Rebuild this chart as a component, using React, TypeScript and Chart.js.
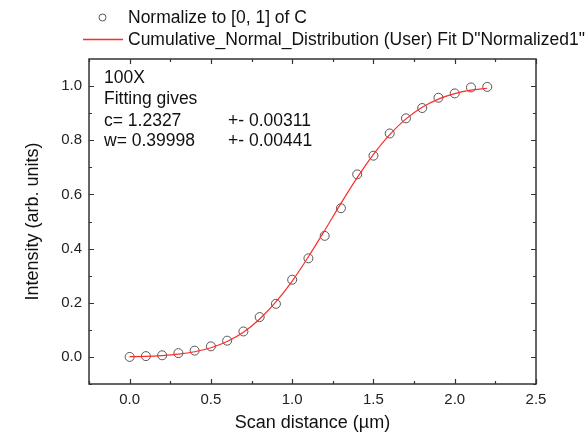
import { useEffect, useRef } from "react";
import { Chart, registerables } from "chart.js";

Chart.register(...registerables);

// ---- data ----
const scanX = [0, 0.1, 0.2, 0.3, 0.4, 0.5, 0.6, 0.7, 0.8, 0.9, 1.0, 1.1, 1.2, 1.3, 1.4, 1.5, 1.6, 1.7, 1.8, 1.9, 2.0, 2.1, 2.2];
const normalized = [0.0, 0.003, 0.006, 0.014, 0.023, 0.039, 0.06, 0.094, 0.147, 0.196, 0.285, 0.364, 0.447, 0.549, 0.674, 0.743, 0.825, 0.881, 0.919, 0.957, 0.973, 0.995, 0.997];
const fitX = [0, 0.1, 0.2, 0.3, 0.4, 0.5, 0.6, 0.7, 0.8, 0.9, 1.0, 1.1, 1.2, 1.3, 1.4, 1.5, 1.6, 1.7, 1.8, 1.9, 2.0, 2.1, 2.2];
const fitY = [0.001, 0.002, 0.005, 0.010, 0.019, 0.034, 0.057, 0.091, 0.140, 0.203, 0.280, 0.370, 0.467, 0.567, 0.662, 0.748, 0.821, 0.879, 0.922, 0.952, 0.972, 0.985, 0.992];
const xTickValues = [0, 0.5, 1.0, 1.5, 2.0, 2.5];
const yTickValues = [0, 0.2, 0.4, 0.6, 0.8, 1.0];
const seriesNames = ["Normalize to [0, 1] of C", "Cumulative_Normal_Distribution (User) Fit D\"Normalized1\""];
const noteLines = ["100X", "Fitting gives"];
const paramNames = ["c= 1.2327", "w= 0.39998"];
const paramErrors = ["+- 0.00311", "+- 0.00441"];
const xTitle = "Scan distance (µm)";
const yTitle = "Intensity (arb. units)";

const FONT = "'Liberation Sans', Arial, sans-serif";
const MARKER_COLOR = "#555555";
const FIT_COLOR = "#ff2a2a";
const FRAME_COLOR = "#333333";

const framePlugin = {
  id: "originFrame",
  afterDraw(chart: any) {
    const { ctx, chartArea } = chart;
    const { left, right, top, bottom } = chartArea;
    const xs = chart.scales.x;
    const ys = chart.scales.y;
    ctx.save();
    ctx.strokeStyle = FRAME_COLOR;
    ctx.lineWidth = 1.5;
    ctx.strokeRect(left, top, right - left, bottom - top);
    ctx.lineWidth = 1.2;
    const major = 5;
    const minor = 3;
    const xMinor = xTickValues.slice(0, -1).map((v, i) => (v + xTickValues[i + 1]) / 2);
    xMinor.unshift(xTickValues[0] - 0.25);
    const drawX = (v: number, len: number) => {
      const px = Math.round(xs.getPixelForValue(v)) + 0.5;
      if (px < left - 1 || px > right + 1) return;
      ctx.beginPath();
      ctx.moveTo(px, bottom);
      ctx.lineTo(px, bottom - len);
      ctx.moveTo(px, top);
      ctx.lineTo(px, top + len);
      ctx.stroke();
    };
    xTickValues.forEach((v) => drawX(v, major));
    xMinor.forEach((v) => drawX(v, minor));
    const yMinor = yTickValues.slice(0, -1).map((v, i) => (v + yTickValues[i + 1]) / 2);
    yMinor.unshift(yTickValues[0] - 0.1);
    const drawY = (v: number, len: number) => {
      const py = Math.round(ys.getPixelForValue(v)) + 0.5;
      if (py < top - 1 || py > bottom + 1) return;
      ctx.beginPath();
      ctx.moveTo(left, py);
      ctx.lineTo(left + len, py);
      ctx.moveTo(right, py);
      ctx.lineTo(right - len, py);
      ctx.stroke();
    };
    yTickValues.forEach((v) => drawY(v, major));
    yMinor.forEach((v) => drawY(v, minor));

    // legend
    ctx.fillStyle = "#111111";
    ctx.font = `17.5px ${FONT}`;
    ctx.textBaseline = "middle";
    ctx.textAlign = "left";
    ctx.strokeStyle = MARKER_COLOR;
    ctx.lineWidth = 1;
    ctx.beginPath();
    ctx.arc(102.5, 17.5, 3.5, 0, Math.PI * 2);
    ctx.stroke();
    ctx.fillText(seriesNames[0], 128, 18);
    ctx.strokeStyle = FIT_COLOR;
    ctx.lineWidth = 1.5;
    ctx.beginPath();
    ctx.moveTo(83, 39.5);
    ctx.lineTo(123, 39.5);
    ctx.stroke();
    ctx.fillText(seriesNames[1], 128, 40);

    // annotation
    const tx = 104;
    ctx.fillText(noteLines[0], tx, 78);
    ctx.fillText(noteLines[1], tx, 99.5);
    ctx.fillText(paramNames[0], tx, 121);
    ctx.fillText(paramErrors[0], 228, 121);
    ctx.fillText(paramNames[1], tx, 141.5);
    ctx.fillText(paramErrors[1], 228, 141.5);
    ctx.restore();
  },
};

export default function App() {
  const ref = useRef<HTMLCanvasElement | null>(null);
  useEffect(() => {
    if (!ref.current) return;
    const chart = new Chart(ref.current, {
      type: "scatter",
      data: {
        datasets: [
          {
            label: seriesNames[0],
            data: scanX.map((x, i) => ({ x, y: normalized[i] })),
            showLine: false,
            pointRadius: 4.5,
            pointBorderWidth: 1,
            pointBorderColor: MARKER_COLOR,
            pointBackgroundColor: "rgba(0,0,0,0)",
            order: 1,
          },
          {
            label: seriesNames[1],
            data: fitX.map((x, i) => ({ x, y: fitY[i] })),
            showLine: true,
            pointRadius: 0,
            borderColor: FIT_COLOR,
            borderWidth: 1.2,
            cubicInterpolationMode: "monotone",
            order: 0,
          } as any,
        ],
      },
      options: {
        animation: false,
        responsive: false,
        maintainAspectRatio: false,
        layout: { padding: { top: 59, right: 52, left: 0, bottom: 0 } },
        plugins: { legend: { display: false }, tooltip: { enabled: false } },
        scales: {
          x: {
            type: "linear",
            min: -0.25,
            max: 2.5,
            grid: { display: false, drawTicks: false },
            border: { display: false },
            afterBuildTicks: (s: any) => {
              s.ticks = xTickValues.map((value) => ({ value }));
            },
            afterFit: (s: any) => {
              s.height = 50;
            },
            ticks: {
              padding: 7,
              color: "#222222",
              font: { family: FONT, size: 15 },
              callback: (v: any) => Number(v).toFixed(1),
            },
            title: {
              display: true,
              text: xTitle,
              color: "#111111",
              font: { family: FONT, size: 18 },
              padding: { top: 0, bottom: 0 },
            },
          },
          y: {
            type: "linear",
            min: -0.1,
            max: 1.1,
            grid: { display: false, drawTicks: false },
            border: { display: false },
            afterBuildTicks: (s: any) => {
              s.ticks = yTickValues.map((value) => ({ value }));
            },
            afterFit: (s: any) => {
              s.width = 89;
            },
            ticks: {
              padding: 7,
              color: "#222222",
              font: { family: FONT, size: 15 },
              callback: (v: any) => Number(v).toFixed(1),
            },
            title: {
              display: true,
              text: yTitle,
              color: "#111111",
              font: { family: FONT, size: 18 },
              padding: { top: 22, bottom: 0 },
            },
          },
        },
      },
      plugins: [framePlugin],
    } as any);
    return () => chart.destroy();
  }, []);
  return (
    <div style={{ position: "absolute", left: 0, top: 0, width: 588, height: 434, background: "#ffffff" }}>
      <canvas ref={ref} width={588} height={434} style={{ width: 588, height: 434, display: "block" }} />
    </div>
  );
}
